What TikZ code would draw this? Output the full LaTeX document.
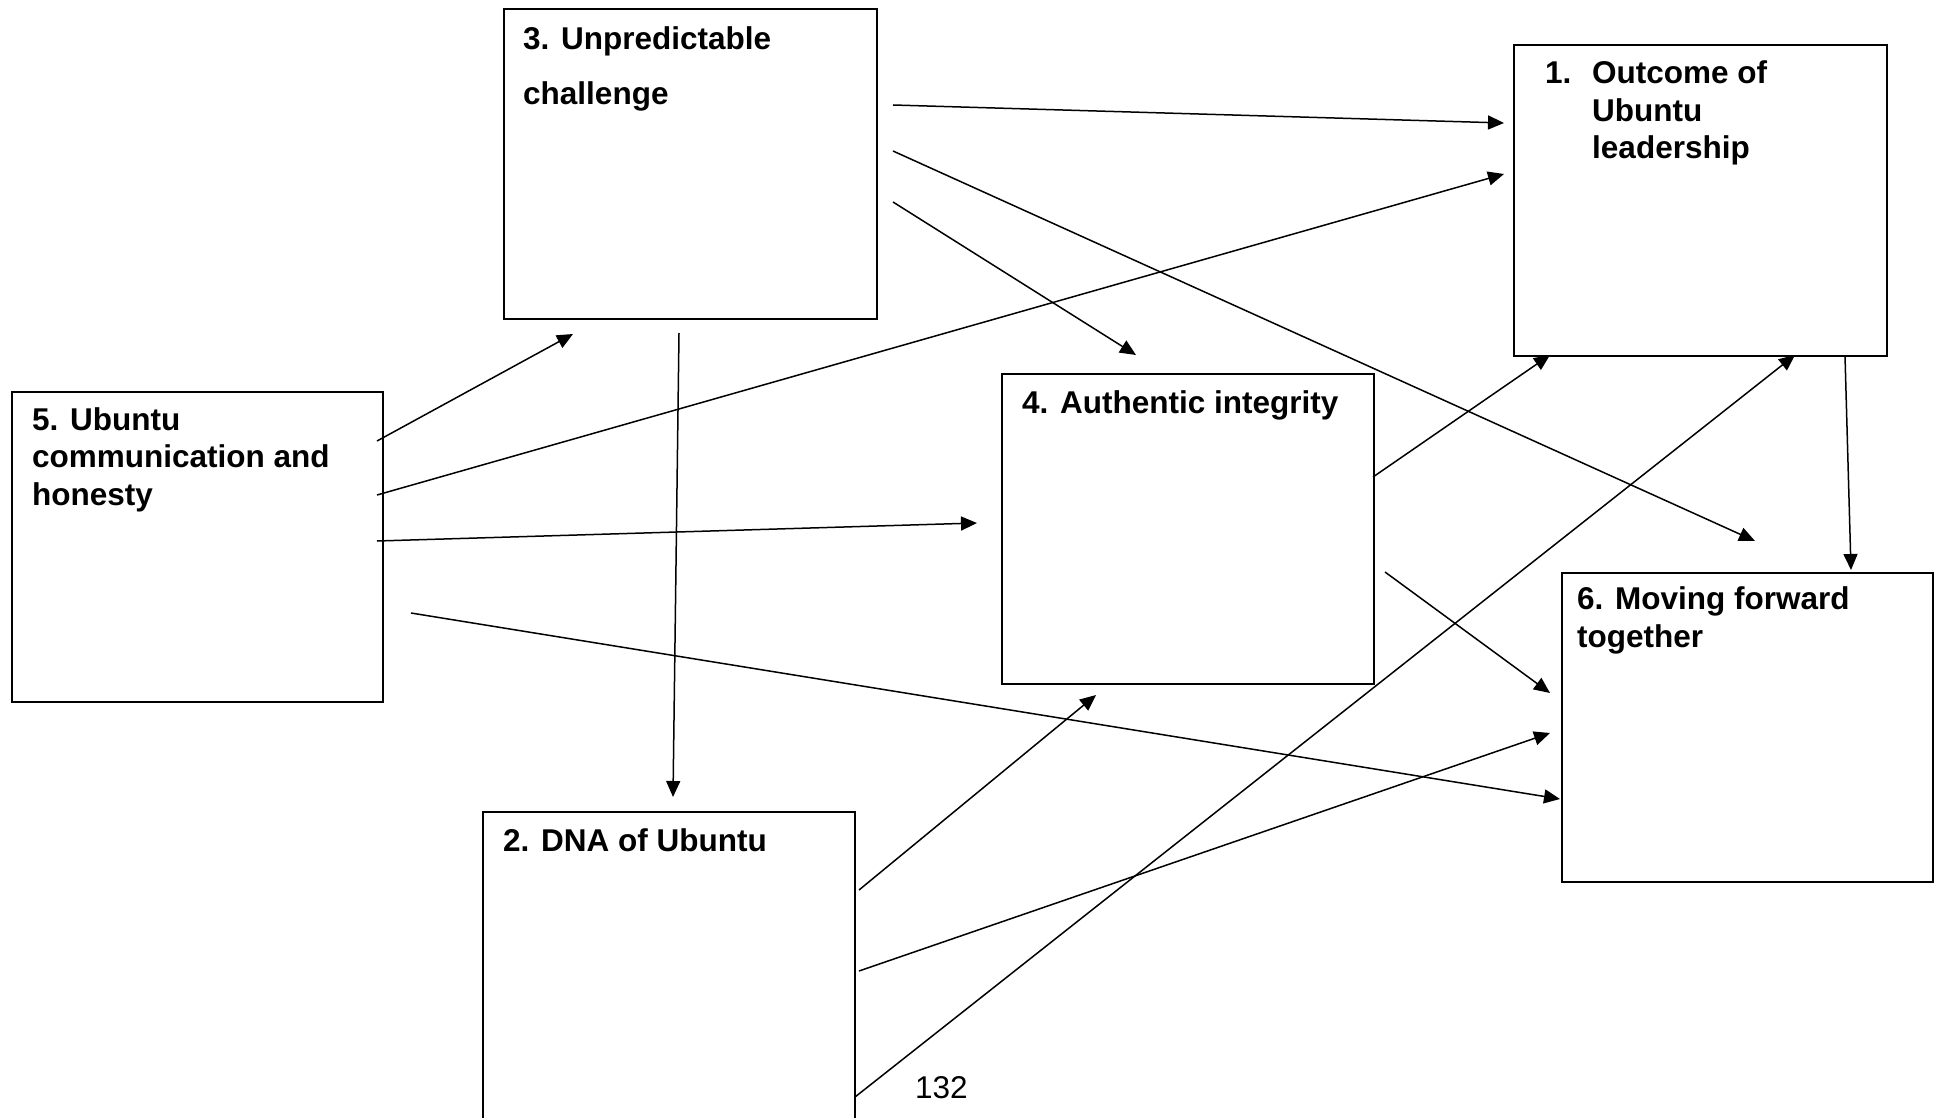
\documentclass[tikz,border=0pt]{standalone}
\usepackage{fontspec}
\setmainfont{Liberation Sans}
\usetikzlibrary{arrows.meta}
\begin{document}
\begin{tikzpicture}[x=1pt,y=-1pt,
  box/.style={draw=black, line width=2pt, fill=white, rectangle, inner sep=0pt, anchor=north west},
  % multi-line titles are placed by the baseline of their last line
  title/.style={anchor=base west, inner sep=0pt, align=left, font=\bfseries\fontsize{31.5}{37.5}\selectfont},
  link/.style={line width=1.5pt, -{Triangle[length=16pt,width=14pt]}},
  pagenum/.style={anchor=base west, inner sep=0pt, font=\fontsize{31.5}{37.5}\selectfont}]
\useasboundingbox (0,0) rectangle (1938,1118);
% boxes
\node[box, minimum width=373pt, minimum height=310pt] (b3) at (503,8) {};
\node[box, minimum width=373pt, minimum height=311pt] (b1) at (1513,44) {};
\node[box, minimum width=371pt, minimum height=310pt] (b5) at (11,391) {};
\node[box, minimum width=372pt, minimum height=320pt] (b2) at (482,811) {};
\node[box, minimum width=372pt, minimum height=310pt] (b4) at (1001,373) {};
\node[box, minimum width=371pt, minimum height=309pt] (b6) at (1561,572) {};
% titles
\node[title] (t3) at (523,105) {3. Unpredictable\\[17.5pt]challenge};
\node[title] (t1) at (1545,159) {\makebox[47pt][l]{1.}Outcome of\\\hspace*{47pt}Ubuntu\\\hspace*{47pt}leadership};
\node[title] (t5) at (32,505) {5. Ubuntu\\communication and\\honesty};
\node[title] (t2) at (503,851) {2. DNA of Ubuntu};
\node[title] (t4) at (1022,413) {4. Authentic integrity};
\node[title] (t6) at (1577,647) {6. Moving forward\\together};
\node[pagenum] (pg) at (915,1098) {132};
% connector ends
\coordinate (s1) at (893,105);  \coordinate (e1) at (1504,123);
\coordinate (s2) at (893,151);  \coordinate (e2) at (1755,541);
\coordinate (s3) at (893,202);  \coordinate (e3) at (1136,355);
\coordinate (s4) at (679,333);  \coordinate (e4) at (673,797);
\coordinate (s5) at (377,441);  \coordinate (e5) at (573,334);
\coordinate (s6) at (377,495);  \coordinate (e6) at (1504,174);
\coordinate (s7) at (377,541);  \coordinate (e7) at (977,523);
\coordinate (s8) at (411,613);  \coordinate (e8) at (1560,799);
\coordinate (s9) at (1373,477); \coordinate (e9) at (1550,355);
\coordinate (s10) at (1385,572); \coordinate (e10) at (1550,693);
\coordinate (s11) at (1845,356); \coordinate (e11) at (1851,570);
\coordinate (s12) at (859,890); \coordinate (e12) at (1096,695);
\coordinate (s13) at (859,971); \coordinate (e13) at (1550,733);
\coordinate (s14) at (855,1097); \coordinate (e14) at (1795,355);
% connectors
\foreach \i in {1,...,14} {\draw[link] (s\i) -- (e\i);}
\end{tikzpicture}
\end{document}
